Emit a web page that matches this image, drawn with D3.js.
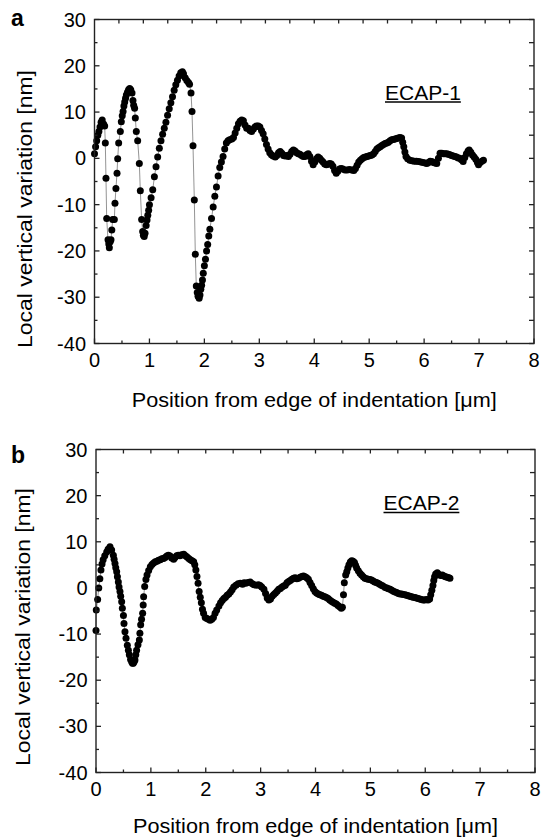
<!DOCTYPE html>
<html>
<head>
<meta charset="utf-8">
<script src="https://cdn.jsdelivr.net/npm/d3@7"></script>
<style>
  * { margin: 0; padding: 0; }
  body { background: #fff; overflow: hidden; }
  text { font-family: Arial, "Liberation Sans", sans-serif; fill: #000; }
</style>
</head>
<body>
<div id="chart"></div>
<script>
// ECAP-1 profile (panel a)
const ecap1X = [0.00,0.02,0.04,0.06,0.08,0.10,0.12,0.14,0.165,0.185,0.197,0.209,0.222,0.246,0.26,0.27,0.285,0.30,0.315,0.331,0.361,0.373,0.39,0.41,0.422,0.44,0.47,0.488,0.505,0.52,0.535,0.55,0.565,0.58,0.60,0.62,0.64,0.66,0.683,0.70,0.713,0.73,0.743,0.761,0.786,0.816,0.834,0.858,0.877,0.89,0.905,0.92,0.94,0.956,0.97,0.986,1.00,1.03,1.06,1.09,1.12,1.15,1.18,1.21,1.24,1.27,1.30,1.33,1.36,1.39,1.42,1.45,1.48,1.51,1.54,1.57,1.60,1.62,1.65,1.68,1.71,1.73,1.757,1.775,1.793,1.817,1.835,1.853,1.87,1.885,1.905,1.92,1.935,1.95,1.965,1.98,2.00,2.02,2.04,2.06,2.08,2.10,2.13,2.16,2.19,2.22,2.25,2.28,2.31,2.34,2.37,2.40,2.43,2.46,2.50,2.53,2.56,2.59,2.62,2.65,2.68,2.71,2.74,2.77,2.80,2.83,2.86,2.89,2.92,2.95,2.98,3.01,3.04,3.07,3.10,3.13,3.16,3.19,3.22,3.25,3.29,3.32,3.35,3.38,3.41,3.44,3.47,3.50,3.53,3.56,3.59,3.62,3.65,3.68,3.71,3.74,3.77,3.80,3.83,3.86,3.89,3.92,3.95,3.98,4.01,4.04,4.07,4.10,4.13,4.16,4.19,4.22,4.25,4.28,4.31,4.34,4.37,4.40,4.43,4.46,4.49,4.52,4.56,4.60,4.64,4.68,4.72,4.75,4.78,4.81,4.84,4.87,4.90,4.93,4.96,4.99,5.02,5.05,5.08,5.11,5.14,5.17,5.20,5.23,5.26,5.29,5.32,5.35,5.38,5.41,5.44,5.47,5.50,5.53,5.56,5.59,5.61,5.63,5.65,5.67,5.70,5.74,5.78,5.82,5.86,5.90,5.94,5.98,6.02,6.05,6.08,6.11,6.14,6.17,6.20,6.23,6.26,6.29,6.32,6.35,6.38,6.41,6.44,6.47,6.50,6.53,6.56,6.59,6.62,6.65,6.68,6.71,6.74,6.77,6.80,6.82,6.85,6.88,6.91,6.94,6.97,6.99,7.02,7.05,7.08];
const ecap1Y = [1.0,2.5,3.8,5.0,5.8,6.8,7.8,8.3,7.4,7.0,3.3,-4.3,-13.0,-17.6,-18.5,-19.3,-18.0,-17.6,-15.5,-13.2,-13.2,-9.7,-6.5,-3.2,-0.1,3.3,5.8,7.9,9.2,10.1,11.3,12.2,13.0,13.7,14.3,14.8,15.1,14.8,14.1,12.5,11.5,10.8,8.7,5.8,3.8,-1.1,-7.0,-13.2,-15.8,-16.6,-16.9,-16.2,-14.5,-13.3,-12.3,-11.2,-10.0,-8.5,-6.8,-4.0,-1.8,0.3,2.2,3.8,5.2,6.5,7.8,9.3,10.7,12.0,13.3,14.7,15.9,16.9,17.8,18.5,18.7,18.3,17.4,16.8,16.4,16.0,14.1,10.1,2.7,-9.0,-20.7,-27.6,-29.0,-29.8,-30.2,-29.5,-28.3,-27.4,-26.3,-24.8,-23.2,-21.8,-20.0,-18.6,-16.8,-15.3,-13.0,-10.5,-8.2,-6.2,-3.8,-2.0,-0.8,0.4,2.0,3.3,3.8,4.0,4.2,4.5,5.5,6.5,7.5,8.0,8.3,8.1,7.2,6.5,6.5,6.0,5.8,6.3,6.8,7.0,7.0,6.8,6.0,5.3,4.2,3.0,2.0,1.2,0.8,0.5,0.3,0.6,1.2,1.5,1.1,0.6,0.5,0.6,0.4,0.9,1.5,1.8,1.6,1.2,1.0,0.9,0.6,0.4,0.4,0.8,1.0,0.4,-0.6,-1.4,-0.8,-0.1,0.3,0.0,-0.4,-0.8,-1.2,-1.4,-1.3,-1.1,-1.2,-1.7,-2.6,-3.2,-2.8,-2.3,-2.2,-2.3,-2.5,-2.5,-2.4,-2.5,-2.6,-2.2,-1.5,-0.8,-0.4,-0.1,0.2,0.3,0.4,0.5,0.6,0.7,1.0,1.5,2.0,2.3,2.5,2.8,3.0,3.2,3.3,3.5,3.8,4.0,4.1,4.2,4.3,4.4,4.5,4.4,3.5,2.5,1.4,0.4,-0.1,-0.4,-0.5,-0.6,-0.6,-0.7,-0.8,-0.9,-1.0,-1.1,-0.9,-0.6,-0.7,-0.9,-1.0,-1.1,0.0,1.1,1.1,1.0,1.0,1.0,0.9,0.8,0.6,0.5,0.4,0.3,0.1,0.0,-0.3,-0.7,0.2,1.0,1.6,1.8,1.3,0.7,0.3,-0.2,-0.9,-1.4,-0.9,-0.6,-0.4];

// ECAP-2 profile (panel b)
const ecap2X = [0.00,0.005,0.03,0.05,0.07,0.09,0.11,0.13,0.16,0.195,0.22,0.255,0.285,0.316,0.33,0.346,0.36,0.377,0.39,0.407,0.42,0.437,0.45,0.468,0.48,0.50,0.51,0.528,0.547,0.571,0.59,0.607,0.63,0.65,0.665,0.68,0.695,0.71,0.725,0.74,0.765,0.79,0.80,0.814,0.83,0.85,0.86,0.868,0.887,0.91,0.93,0.96,0.99,1.02,1.05,1.08,1.11,1.14,1.17,1.20,1.23,1.26,1.29,1.32,1.35,1.38,1.415,1.44,1.47,1.50,1.53,1.56,1.60,1.63,1.66,1.69,1.72,1.75,1.78,1.80,1.82,1.84,1.86,1.88,1.90,1.92,1.94,1.96,1.99,2.02,2.05,2.08,2.11,2.14,2.17,2.20,2.24,2.27,2.30,2.33,2.36,2.39,2.42,2.45,2.48,2.51,2.55,2.59,2.63,2.67,2.70,2.73,2.77,2.81,2.85,2.88,2.92,2.96,2.99,3.02,3.06,3.09,3.12,3.15,3.18,3.21,3.24,3.27,3.30,3.33,3.36,3.39,3.42,3.45,3.48,3.51,3.54,3.57,3.60,3.63,3.66,3.69,3.72,3.75,3.78,3.81,3.84,3.87,3.90,3.93,3.96,3.99,4.02,4.05,4.08,4.11,4.14,4.17,4.20,4.23,4.26,4.29,4.32,4.35,4.38,4.41,4.44,4.47,4.49,4.51,4.525,4.55,4.57,4.59,4.61,4.635,4.66,4.685,4.71,4.73,4.75,4.78,4.81,4.84,4.87,4.90,4.93,4.96,4.99,5.02,5.05,5.08,5.11,5.14,5.17,5.20,5.23,5.27,5.30,5.33,5.36,5.39,5.42,5.45,5.48,5.51,5.54,5.57,5.60,5.63,5.66,5.69,5.72,5.75,5.78,5.81,5.84,5.87,5.90,5.93,5.96,5.99,6.02,6.05,6.08,6.10,6.12,6.14,6.155,6.17,6.19,6.22,6.25,6.28,6.31,6.34,6.37,6.40,6.43,6.45];
const ecap2Y = [-9.2,-4.8,-2.5,0.0,2.0,3.9,5.2,6.1,7.0,7.8,8.4,8.9,8.2,7.1,6.2,5.3,4.4,3.5,2.4,1.3,0.2,-0.8,-1.8,-3.0,-4.4,-6.0,-7.7,-9.5,-10.9,-12.4,-13.5,-14.5,-15.5,-16.0,-16.3,-16.3,-16.0,-15.6,-14.5,-13.5,-12.3,-11.3,-9.8,-8.0,-6.8,-5.5,-3.7,-1.9,0.3,1.8,2.8,3.8,4.6,5.1,5.4,5.7,5.8,6.0,6.1,6.3,6.4,6.6,6.9,7.1,6.9,6.5,6.2,6.6,7.0,7.1,7.0,7.2,7.3,7.0,6.7,6.4,6.1,5.9,5.7,5.0,3.9,2.5,1.0,-0.8,-2.0,-3.2,-4.6,-5.5,-6.4,-6.6,-6.8,-7.0,-6.8,-6.4,-5.5,-4.8,-3.9,-3.2,-2.7,-2.3,-2.0,-1.6,-1.3,-0.9,-0.4,0.2,0.6,0.9,1.0,0.8,1.1,1.0,1.2,1.3,0.9,0.7,0.6,0.7,0.5,0.2,-0.3,-1.2,-2.2,-2.6,-2.4,-1.8,-1.4,-1.1,-0.7,-0.3,-0.1,0.2,0.4,0.6,1.1,1.4,1.6,1.9,2.1,2.2,2.0,2.1,2.3,2.5,2.6,2.4,2.2,1.9,1.2,0.5,-0.2,-0.8,-1.1,-1.3,-1.5,-1.6,-1.8,-1.9,-2.1,-2.3,-2.6,-2.9,-3.1,-3.3,-3.5,-3.8,-4.1,-4.4,-4.2,-1.5,1.1,2.8,3.5,4.3,5.0,5.6,5.9,5.8,5.5,4.9,4.3,3.7,3.2,2.8,2.4,2.1,2.0,1.9,1.8,1.7,1.5,1.3,1.2,1.0,0.8,0.6,0.4,0.1,0.0,-0.2,-0.3,-0.5,-0.7,-0.9,-1.0,-1.2,-1.3,-1.3,-1.4,-1.5,-1.6,-1.7,-1.8,-1.9,-2.0,-2.1,-2.2,-2.3,-2.4,-2.5,-2.6,-2.6,-2.5,-2.6,-2.4,-1.5,-0.5,0.5,1.6,2.4,3.0,3.3,2.9,2.7,2.8,2.6,2.4,2.3,2.2,2.1];

const xTicks = [0, 1, 2, 3, 4, 5, 6, 7, 8];
const yTicks = [-40, -30, -20, -10, 0, 10, 20, 30];
const panelLetters = ['a', 'b'];
const sampleNames = ['ECAP-1', 'ECAP-2'];

const W = 541, H = 839;
const svg = d3.select('#chart').append('svg')
  .attr('width', W)
  .attr('height', H);

// panel frames
const panels = [
  { x0: 94.5, x1: 534, y0: 19.5, y1: 343.5, xs: ecap1X, ys: ecap1Y, topMax: 9,
    labY: 99.5, labX: 385, yTitleX: 31.5, yTitleMid: 209, xTitleY: 406.5, letterY: 26 },
  { x0: 96, x1: 535, y0: 449.5, y1: 772.5, xs: ecap2X, ys: ecap2Y, topMax: 8,
    labY: 510, labX: 383.5, yTitleX: 29.5, yTitleMid: 627, xTitleY: 833, letterY: 463 }
];

panels.forEach(function (p, i) {
  const g = svg.append('g');
  const x = d3.scaleLinear().domain([0, 8]).range([p.x0, p.x1]);
  const y = d3.scaleLinear().domain([-40, 30]).range([p.y1, p.y0]);
  const xTop = d3.scaleLinear().domain([0, p.topMax]).range([p.x0, p.x1]);

  const pts = p.xs.map(function (v, k) { return [v, p.ys[k]]; });

  // thin connecting line
  g.append('path')
    .datum(pts)
    .attr('d', d3.line().x(d => x(d[0])).y(d => y(d[1])))
    .attr('fill', 'none')
    .attr('stroke', '#888')
    .attr('stroke-width', 0.9);

  g.selectAll('circle')
    .data(pts)
    .enter().append('circle')
    .attr('cx', d => x(d[0]))
    .attr('cy', d => y(d[1]))
    .attr('r', 3.5)
    .attr('fill', '#000');

  // frame
  g.append('rect')
    .attr('x', p.x0).attr('y', p.y0)
    .attr('width', p.x1 - p.x0).attr('height', p.y1 - p.y0)
    .attr('fill', 'none').attr('stroke', '#222').attr('stroke-width', 1.4);

  // ticks pointing inward
  const minorX = d3.range(0.5, 8, 1);
  const minorY = d3.range(-35, 30, 10);
  const tick = g.append('g').attr('stroke', '#222').attr('stroke-width', 1.3);
  xTicks.forEach(v => tick.append('line').attr('x1', x(v)).attr('x2', x(v)).attr('y1', p.y1).attr('y2', p.y1 - 5));
  minorX.forEach(v => tick.append('line').attr('x1', x(v)).attr('x2', x(v)).attr('y1', p.y1).attr('y2', p.y1 - 3));
  d3.range(0.5, p.topMax, 0.5).forEach(v => tick.append('line').attr('x1', xTop(v)).attr('x2', xTop(v)).attr('y1', p.y0).attr('y2', p.y0 + 4));
  yTicks.forEach(v => tick.append('line').attr('x1', p.x0).attr('x2', p.x0 + 5).attr('y1', y(v)).attr('y2', y(v)));
  minorY.forEach(v => tick.append('line').attr('x1', p.x0).attr('x2', p.x0 + 3).attr('y1', y(v)).attr('y2', y(v)));
  yTicks.concat(minorY).forEach(v => tick.append('line').attr('x1', p.x1).attr('x2', p.x1 - 5).attr('y1', y(v)).attr('y2', y(v)));

  // tick labels
  g.selectAll('.yl').data(yTicks).enter().append('text')
    .attr('x', p.x0 - 8.5).attr('y', d => y(d) + 7)
    .attr('text-anchor', 'end').attr('font-size', 20)
    .text(d => d);
  g.selectAll('.xl').data(xTicks).enter().append('text')
    .attr('x', d => x(d)).attr('y', p.y1 + 23.5)
    .attr('text-anchor', 'middle').attr('font-size', 20)
    .text(d => d);

  // axis titles
  g.append('text')
    .attr('transform', 'translate(' + p.yTitleX + ',' + p.yTitleMid + ') rotate(-90)')
    .attr('text-anchor', 'middle').attr('font-size', 21)
    .attr('textLength', 278).attr('lengthAdjust', 'spacingAndGlyphs')
    .text('Local vertical variation [nm]');
  g.append('text')
    .attr('x', (p.x0 + p.x1) / 2).attr('y', p.xTitleY)
    .attr('text-anchor', 'middle').attr('font-size', 21)
    .attr('textLength', 365).attr('lengthAdjust', 'spacingAndGlyphs')
    .text('Position from edge of indentation [\u03bcm]');

  // panel letter
  g.append('text')
    .attr('x', 11).attr('y', p.letterY)
    .attr('font-size', 23).attr('font-weight', 'bold')
    .text(panelLetters[i]);

  // sample label, underlined
  const lab = g.append('text')
    .attr('x', p.labX).attr('y', p.labY)
    .attr('font-size', 21)
    .text(sampleNames[i]);
  const bw = lab.node().getComputedTextLength();
  g.append('line')
    .attr('x1', p.labX).attr('x2', p.labX + bw)
    .attr('y1', p.labY + 2.5).attr('y2', p.labY + 2.5)
    .attr('stroke', '#000').attr('stroke-width', 1.4);
});
</script>
</body>
</html>
